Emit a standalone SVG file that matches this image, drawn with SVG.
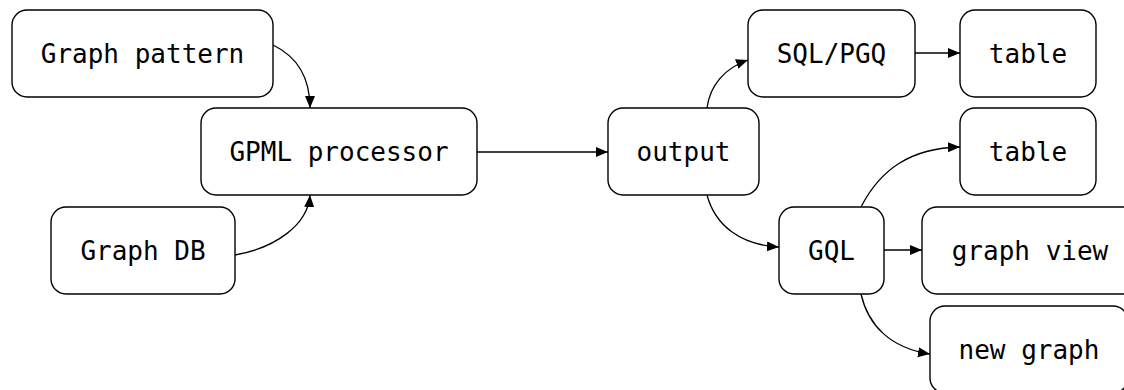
<svg xmlns="http://www.w3.org/2000/svg" width="1124" height="390" viewBox="0 0 1124 390">
<style>
.n rect{fill:#fff;stroke:#000;stroke-width:1.4}
.n text{font-family:"DejaVu Sans Mono",monospace;font-size:26px;fill:#000;text-anchor:middle}
.c path{fill:none;stroke:#000;stroke-width:1.3}
</style>
<defs>
<marker id="ah" markerUnits="userSpaceOnUse" markerWidth="13" markerHeight="11" refX="12" refY="5" orient="auto">
<path d="M0,0 L12,5 L0,10 z" fill="#000"/>
</marker>
</defs>
<rect width="1124" height="390" fill="#fff"/>
<g class="c">
<path d="M273,45 C300,58 310,80 310,108" marker-end="url(#ah)"/>
<path d="M235,255 C275,248 308,225 310,195" marker-end="url(#ah)"/>
<path d="M477,152 L608,152" marker-end="url(#ah)"/>
<path d="M707,108 C710,85 725,68 748,60" marker-end="url(#ah)"/>
<path d="M915,53 L960,53" marker-end="url(#ah)"/>
<path d="M707,195 C715,225 740,245 779,247" marker-end="url(#ah)"/>
<path d="M861,207 C880,170 910,148 960,147" marker-end="url(#ah)"/>
<path d="M884,250 L922,250" marker-end="url(#ah)"/>
<path d="M861,294 C868,325 890,348 930,354" marker-end="url(#ah)"/>
</g>
<g id="graph-pattern" class="n"><rect x="12" y="10" width="261" height="87" rx="15"/><text x="142.5" y="62.5">Graph pattern</text></g>
<g id="gpml-processor" class="n"><rect x="201" y="108" width="276" height="87" rx="15"/><text x="339" y="160.5">GPML processor</text></g>
<g id="graph-db" class="n"><rect x="51" y="207" width="184" height="87" rx="15"/><text x="143" y="259.5">Graph DB</text></g>
<g id="output" class="n"><rect x="608" y="108" width="151" height="87" rx="15"/><text x="683.5" y="160.5">output</text></g>
<g id="sql-pgq" class="n"><rect x="748" y="10" width="167" height="87" rx="15"/><text x="831.5" y="62.5">SQL/PGQ</text></g>
<g id="table1" class="n"><rect x="960" y="10" width="136" height="87" rx="15"/><text x="1028" y="62.5">table</text></g>
<g id="table2" class="n"><rect x="960" y="108" width="136" height="87" rx="15"/><text x="1028" y="160.5">table</text></g>
<g id="gql" class="n"><rect x="779" y="207" width="105" height="87" rx="15"/><text x="831.5" y="259.5">GQL</text></g>
<g id="graph-view" class="n"><rect x="922" y="207" width="216" height="87" rx="15"/><text x="1030" y="259.5">graph view</text></g>
<g id="new-graph" class="n"><rect x="930" y="306" width="198" height="87" rx="15"/><text x="1029" y="358.5">new graph</text></g>
</svg>
